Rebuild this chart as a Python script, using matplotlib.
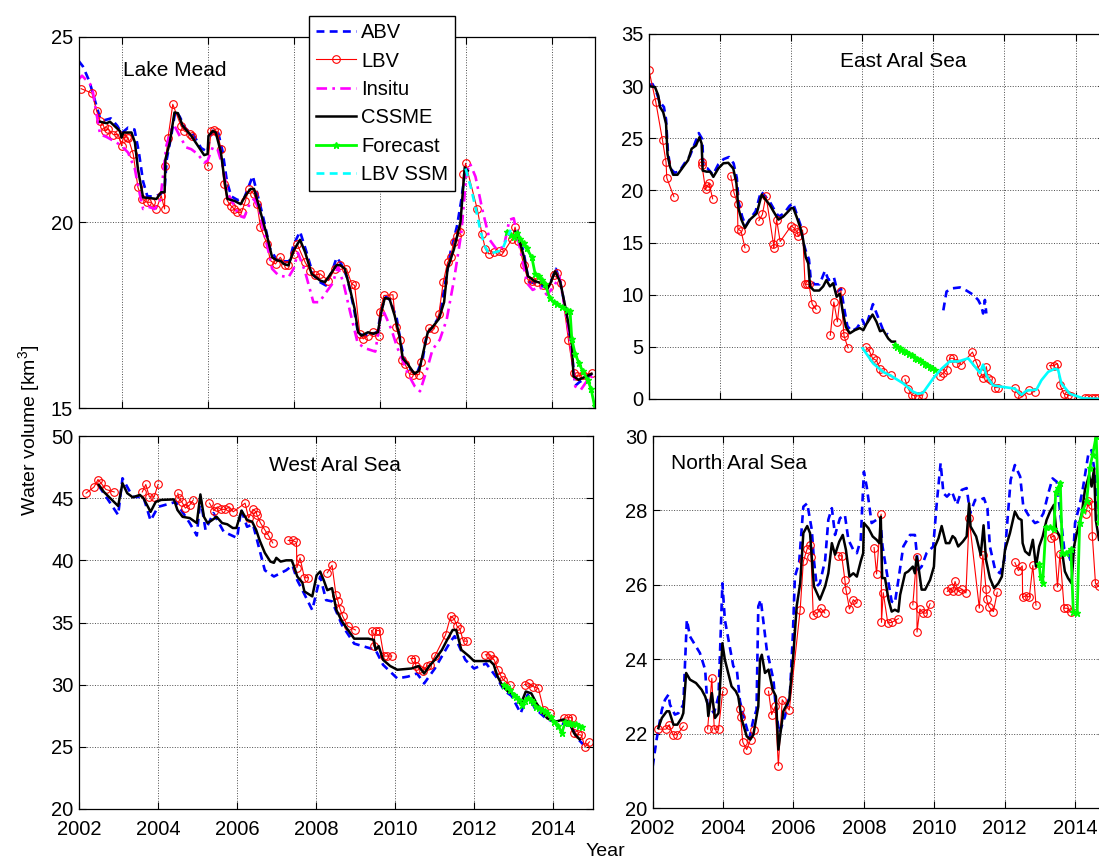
import numpy as np
import matplotlib.pyplot as plt

plt.rcParams['font.family'] = ['Liberation Sans', 'DejaVu Sans']
plt.rcParams['mathtext.fontset'] = 'custom'
plt.rcParams['mathtext.rm'] = 'Liberation Sans'

# ---------------- Lake Mead (year, km3) ----------------
mead_abv = [(2003.0, 24.35), (2003.1, 24.2), (2003.25, 23.8), (2003.4, 23.2), (2003.5, 22.8), (2003.6, 22.75),
            (2003.75, 22.8), (2003.9, 22.6), (2004.0, 22.4), (2004.15, 22.55), (2004.3, 22.5), (2004.4, 21.9),
            (2004.5, 21.1), (2004.6, 20.7), (2004.75, 20.7), (2004.9, 20.75), (2005.0, 20.9), (2005.05, 21.7),
            (2005.15, 22.3), (2005.25, 23.0), (2005.35, 22.85), (2005.5, 22.5), (2005.65, 22.4), (2005.85, 22.0),
            (2006.0, 21.9), (2006.05, 22.3), (2006.15, 22.5), (2006.25, 22.4), (2006.35, 21.9), (2006.45, 21.1),
            (2006.55, 20.7), (2006.7, 20.6), (2006.85, 20.65), (2006.95, 20.95), (2007.05, 21.25), (2007.15, 20.8),
            (2007.3, 20.1), (2007.45, 19.3), (2007.6, 19.0), (2007.75, 18.95), (2007.9, 18.95), (2008.0, 19.4),
            (2008.15, 19.75), (2008.3, 19.2), (2008.45, 18.6), (2008.6, 18.4), (2008.75, 18.3), (2008.9, 18.7),
            (2009.0, 19.05), (2009.1, 18.9), (2009.25, 18.5), (2009.4, 17.7), (2009.5, 17.0), (2009.65, 16.95),
            (2009.85, 17.0), (2009.95, 17.05), (2010.05, 17.7), (2010.15, 18.0), (2010.25, 17.9), (2010.4, 17.4),
            (2010.5, 16.7), (2010.6, 16.2), (2010.75, 16.0), (2010.85, 15.9), (2011.0, 16.3), (2011.1, 17.0),
            (2011.25, 17.2), (2011.4, 17.5), (2011.5, 18.2), (2011.65, 19.2), (2011.8, 19.9), (2011.9, 20.6),
            (2012.0, 21.5),
            (2013.2, 19.8), (2013.35, 19.2), (2013.47, 18.4), (2013.65, 18.35), (2013.85, 18.25), (2014.0, 18.45),
            (2014.1, 18.75), (2014.2, 18.4), (2014.35, 17.5), (2014.47, 16.5), (2014.55, 15.6), (2014.65, 15.7),
            (2014.8, 15.8), (2014.93, 15.9)]
mead_lbv = [(2003.06, 23.6), (2003.31, 23.48), (2003.42, 23.0), (2003.5, 22.73), (2003.58, 22.6), (2003.62, 22.46),
            (2003.69, 22.51), (2003.81, 22.36), (2003.92, 22.37), (2004.0, 22.06), (2004.04, 22.28), (2004.12, 22.3),
            (2004.15, 22.28), (2004.27, 21.84), (2004.38, 20.94), (2004.48, 20.63), (2004.59, 20.54), (2004.69, 20.54),
            (2004.81, 20.36), (2004.92, 20.72), (2005.0, 20.36), (2005.01, 21.52), (2005.08, 22.28), (2005.19, 23.18),
            (2005.38, 22.6), (2005.46, 22.46), (2005.58, 22.39), (2005.64, 22.33), (2006.0, 21.52), (2006.08, 22.46),
            (2006.15, 22.48), (2006.23, 22.44), (2006.31, 21.97), (2006.38, 21.03), (2006.46, 20.58), (2006.54, 20.45),
            (2006.62, 20.36), (2006.69, 20.27), (2006.79, 20.27), (2006.88, 20.58), (2006.96, 20.9), (2007.08, 20.76),
            (2007.15, 20.49), (2007.23, 19.87), (2007.38, 19.42), (2007.46, 18.97), (2007.58, 18.88), (2007.69, 19.06),
            (2007.81, 18.84), (2007.88, 18.85), (2008.0, 19.15), (2008.08, 19.42), (2008.27, 18.92), (2008.38, 18.7),
            (2008.5, 18.58), (2008.62, 18.61), (2008.81, 18.43), (2008.96, 18.75), (2009.08, 18.84), (2009.23, 18.75),
            (2009.35, 18.34), (2009.42, 18.3), (2009.54, 17.0), (2009.62, 16.86), (2009.73, 16.95), (2009.85, 17.04),
            (2009.98, 16.95), (2010.0, 17.58), (2010.1, 18.03), (2010.31, 18.05), (2010.38, 17.18), (2010.48, 16.82),
            (2010.52, 16.28), (2010.59, 16.19), (2010.69, 15.92), (2010.77, 15.9), (2010.92, 15.9), (2010.96, 16.24),
            (2011.08, 16.82), (2011.15, 17.15), (2011.27, 17.13), (2011.38, 17.54), (2011.48, 18.39), (2011.58, 18.92),
            (2011.65, 19.06), (2011.72, 19.46), (2011.81, 19.64), (2011.88, 19.73), (2011.95, 21.3), (2012.0, 21.59),
            (2012.27, 20.36), (2012.38, 19.69), (2012.46, 19.28), (2012.54, 19.15), (2012.65, 19.19), (2012.77, 19.24),
            (2012.88, 19.19), (2013.08, 19.55), (2013.15, 19.87), (2013.23, 19.5), (2013.35, 18.85), (2013.45, 18.45),
            (2013.55, 18.41), (2013.65, 18.4), (2013.8, 18.32), (2013.95, 18.27), (2014.05, 18.59), (2014.12, 18.63),
            (2014.22, 18.36), (2014.39, 16.84), (2014.51, 15.94), (2014.59, 15.85), (2014.72, 15.9), (2014.93, 15.94)]
mead_insitu = [(2003.0, 23.85), (2003.08, 23.95), (2003.31, 23.67), (2003.42, 22.9), (2003.5, 22.37), (2003.65, 22.3),
               (2003.88, 22.15), (2004.0, 22.06), (2004.15, 21.88), (2004.31, 21.43), (2004.38, 20.99), (2004.5, 20.36),
               (2004.62, 20.42), (2004.77, 20.36), (2004.9, 20.6), (2005.04, 22.06), (2005.15, 22.5), (2005.23, 22.6),
               (2005.35, 22.33), (2005.5, 22.02), (2005.62, 21.97), (2005.77, 21.84), (2005.92, 21.61), (2006.0, 21.66),
               (2006.12, 22.02), (2006.23, 21.97), (2006.35, 21.52), (2006.46, 20.81), (2006.58, 20.54), (2006.73, 20.18),
               (2006.85, 20.13), (2006.96, 20.45), (2007.08, 20.63), (2007.19, 20.36), (2007.31, 19.73), (2007.42, 19.19),
               (2007.5, 18.75), (2007.65, 18.57), (2007.88, 18.52), (2008.0, 18.75), (2008.1, 19.18), (2008.26, 18.7),
               (2008.46, 17.85), (2008.6, 17.85), (2008.74, 18.09), (2008.91, 18.36), (2009.03, 18.81), (2009.16, 18.36),
               (2009.32, 17.56), (2009.49, 16.75), (2009.66, 16.61), (2009.9, 16.52), (2010.03, 17.47), (2010.11, 17.56),
               (2010.28, 17.1), (2010.4, 16.66), (2010.53, 16.3), (2010.65, 15.94), (2010.82, 15.58), (2010.94, 15.45),
               (2011.1, 16.03), (2011.23, 16.57), (2011.4, 16.84), (2011.56, 17.38), (2011.73, 18.45), (2011.9, 19.71),
               (2012.02, 21.32), (2012.1, 21.59), (2012.23, 21.23), (2012.39, 20.34), (2012.56, 19.53), (2012.73, 19.26),
               (2012.89, 19.35), (2013.02, 20.07), (2013.12, 20.11), (2013.27, 19.26), (2013.43, 18.36), (2013.56, 18.18),
               (2013.72, 18.27), (2013.89, 18.05), (2014.05, 18.27), (2014.18, 18.54), (2014.3, 17.74), (2014.43, 16.84),
               (2014.55, 15.58), (2014.68, 15.49), (2014.84, 15.76), (2014.95, 15.85)]
mead_cssme = [(2003.5, 22.71), (2003.65, 22.67), (2003.73, 22.71), (2003.96, 22.46), (2004.0, 22.28), (2004.04, 22.42),
              (2004.23, 22.42), (2004.31, 22.15), (2004.38, 21.43), (2004.5, 20.67), (2004.69, 20.65), (2004.81, 20.63),
              (2004.92, 20.81), (2005.0, 20.81), (2005.02, 21.7), (2005.12, 22.15), (2005.23, 22.96), (2005.31, 22.94),
              (2005.42, 22.6), (2005.62, 22.33), (2005.92, 21.81), (2006.0, 21.84), (2006.02, 22.33), (2006.12, 22.46),
              (2006.19, 22.42), (2006.31, 21.88), (2006.38, 21.25), (2006.46, 20.63), (2006.62, 20.58), (2006.77, 20.49),
              (2006.88, 20.72), (2007.0, 20.9), (2007.08, 20.9), (2007.19, 20.45), (2007.38, 19.64), (2007.5, 19.06),
              (2007.62, 18.97), (2007.69, 18.97), (2007.77, 18.88), (2007.88, 18.84), (2008.0, 19.24), (2008.15, 19.53),
              (2008.27, 19.19), (2008.42, 18.61), (2008.62, 18.43), (2008.73, 18.39), (2009.0, 18.85), (2009.08, 18.85),
              (2009.19, 18.75), (2009.31, 18.21), (2009.42, 17.67), (2009.5, 17.04), (2009.58, 16.95), (2009.73, 17.04),
              (2009.85, 17.0), (2009.96, 17.04), (2010.04, 17.58), (2010.12, 17.96), (2010.23, 17.94), (2010.35, 17.49),
              (2010.46, 16.95), (2010.54, 16.33), (2010.65, 16.19), (2010.81, 15.92), (2010.92, 16.01), (2011.0, 16.42),
              (2011.12, 17.04), (2011.23, 17.18), (2011.38, 17.4), (2011.5, 17.85), (2011.58, 18.75), (2011.73, 19.28),
              (2011.88, 20.0), (2011.98, 21.48), (2012.05, 21.39),
              (2013.15, 19.75), (2013.23, 19.6), (2013.35, 19.1), (2013.45, 18.55), (2013.6, 18.42), (2013.8, 18.35),
              (2013.9, 18.2), (2013.98, 18.38), (2014.08, 18.68), (2014.2, 18.4), (2014.34, 17.6), (2014.47, 16.75),
              (2014.51, 15.85), (2014.63, 15.76), (2014.8, 15.85), (2014.93, 15.92)]
mead_forecast = [(2012.96, 19.75), (2013.05, 19.65), (2013.12, 19.6), (2013.2, 19.7), (2013.27, 19.55), (2013.35, 19.45),
                 (2013.42, 19.3), (2013.54, 19.06), (2013.62, 18.6), (2013.7, 18.55), (2013.78, 18.45), (2013.85, 18.34),
                 (2013.96, 17.95), (2014.05, 17.85), (2014.13, 17.8), (2014.25, 17.72), (2014.35, 17.65), (2014.43, 17.6),
                 (2014.47, 16.85), (2014.55, 16.45), (2014.64, 16.2), (2014.72, 16.0), (2014.84, 15.76), (2014.92, 15.5),
                 (2015.0, 15.05)]
mead_ssm = [(2012.0, 21.45), (2012.12, 20.95), (2012.25, 20.3), (2012.35, 19.75), (2012.45, 19.35), (2012.55, 19.15),
            (2012.7, 19.2), (2012.85, 19.25), (2012.95, 19.55), (2013.05, 19.8)]

# ---------------- East Aral Sea ----------------
east_abv = [(2002.0, 30.1), (2002.1, 30.2), (2002.2, 29.5), (2002.3, 28.5), (2002.42, 28.0), (2002.48, 26.8),
            (2002.53, 23.8), (2002.6, 22.1), (2002.72, 21.7), (2002.85, 21.8), (2003.0, 22.6), (2003.15, 23.3),
            (2003.3, 24.6), (2003.4, 25.5), (2003.5, 24.9), (2003.53, 22.2), (2003.65, 22.1), (2003.8, 21.5),
            (2003.95, 22.5), (2004.1, 23.0), (2004.25, 23.2), (2004.38, 22.6), (2004.47, 21.2), (2004.52, 18.9),
            (2004.62, 17.5), (2004.72, 16.6), (2004.85, 17.3), (2005.0, 18.0), (2005.15, 19.9), (2005.28, 19.4),
            (2005.4, 18.9), (2005.55, 18.0), (2005.65, 17.5), (2005.8, 17.8), (2005.95, 18.5), (2006.05, 18.8),
            (2006.15, 17.8), (2006.27, 16.6), (2006.35, 14.9), (2006.42, 14.1), (2006.5, 13.4), (2006.55, 11.5),
            (2006.65, 11.0), (2006.8, 11.0), (2006.95, 12.3), (2007.05, 11.4), (2007.2, 11.7), (2007.3, 10.3),
            (2007.4, 10.6), (2007.5, 8.5), (2007.58, 7.0), (2007.7, 6.5), (2007.85, 6.8), (2008.0, 7.6),
            (2008.1, 6.9), (2008.3, 9.1), (2008.45, 7.8), (2008.6, 6.5), (2008.72, 6.2),
            (2010.28, 8.5), (2010.37, 10.3), (2010.51, 10.6), (2010.75, 10.7), (2010.93, 10.4), (2011.12, 10.0),
            (2011.26, 9.5), (2011.35, 8.9), (2011.4, 8.2), (2011.45, 9.5), (2011.49, 8.2)]
east_lbv = [(2002.0, 31.5), (2002.19, 28.5), (2002.38, 24.8), (2002.48, 22.7), (2002.5, 21.2), (2002.7, 19.4),
            (2003.48, 22.7), (2003.49, 22.4), (2003.59, 20.1), (2003.64, 20.4), (2003.69, 20.7), (2003.79, 19.2),
            (2004.3, 21.4), (2004.39, 19.8), (2004.49, 18.7), (2004.5, 16.3), (2004.59, 16.1), (2004.7, 14.5),
            (2005.09, 17.1), (2005.19, 17.7), (2005.29, 19.5),
            (2005.5, 14.9), (2005.51, 14.5), (2005.59, 17.2), (2005.69, 15.1),
            (2006.0, 16.6), (2006.08, 16.4), (2006.17, 16.0), (2006.2, 15.6), (2006.32, 16.2), (2006.39, 11.0),
            (2006.45, 11.0), (2006.5, 11.0), (2006.59, 9.1), (2006.7, 8.6),
            (2007.1, 6.1), (2007.2, 9.3), (2007.3, 7.4), (2007.4, 10.4), (2007.48, 6.3), (2007.49, 6.0), (2007.6, 4.9),
            (2008.1, 5.0), (2008.2, 4.6), (2008.29, 3.9), (2008.4, 3.7), (2008.5, 2.9), (2008.59, 2.6), (2008.8, 2.3),
            (2009.2, 1.9), (2009.29, 1.0), (2009.39, 0.4), (2009.48, 0.3), (2009.57, 0.3), (2009.71, 0.4),
            (2010.18, 2.2), (2010.28, 2.5), (2010.37, 2.8), (2010.46, 3.9), (2010.56, 3.9), (2010.65, 3.5), (2010.79, 3.3),
            (2011.1, 4.5), (2011.21, 3.5), (2011.33, 2.5), (2011.4, 2.0), (2011.49, 3.1), (2011.54, 2.0), (2011.63, 1.8),
            (2011.73, 1.1), (2011.82, 1.1),
            (2012.29, 1.1), (2012.38, 0.5), (2012.5, 0.2), (2012.69, 0.9), (2012.85, 0.7),
            (2013.27, 3.2), (2013.39, 3.2), (2013.49, 3.4), (2013.57, 1.3), (2013.67, 0.5), (2013.78, 0.4), (2013.88, 0.3),
            (2014.26, 0.06), (2014.36, 0.06), (2014.45, 0.06), (2014.55, 0.06), (2014.64, 0.06), (2014.74, 0.06)]
east_cssme = [(2002.0, 30.0), (2002.17, 29.9), (2002.26, 29.1), (2002.31, 28.0), (2002.4, 27.5), (2002.48, 26.4),
              (2002.52, 23.5), (2002.59, 22.3), (2002.68, 21.5), (2002.8, 21.5), (2002.97, 22.3), (2003.1, 22.9),
              (2003.2, 24.0), (2003.32, 24.3), (2003.42, 25.1), (2003.48, 24.5), (2003.51, 21.9), (2003.62, 21.8),
              (2003.72, 21.8), (2003.81, 21.3), (2003.95, 22.1), (2004.09, 22.6), (2004.23, 22.65), (2004.37, 22.1),
              (2004.46, 20.7), (2004.51, 18.4), (2004.6, 17.2), (2004.7, 16.4), (2004.84, 17.2), (2005.03, 17.8),
              (2005.17, 19.6), (2005.26, 19.2), (2005.4, 18.6), (2005.5, 18.0), (2005.64, 17.2), (2005.78, 17.5),
              (2005.92, 18.0), (2006.0, 18.3), (2006.06, 18.3), (2006.15, 17.5), (2006.26, 16.4), (2006.34, 15.2),
              (2006.41, 13.6), (2006.48, 13.0), (2006.53, 10.8), (2006.64, 10.4), (2006.79, 10.4), (2006.9, 10.8),
              (2006.99, 11.4), (2007.09, 10.8), (2007.18, 11.1), (2007.28, 9.8), (2007.37, 10.1), (2007.46, 8.2),
              (2007.54, 6.9), (2007.65, 6.3), (2007.79, 6.6), (2007.93, 6.8), (2008.03, 6.6), (2008.12, 7.2),
              (2008.29, 8.1), (2008.4, 7.4), (2008.5, 6.5), (2008.59, 6.6), (2008.73, 5.8), (2008.82, 5.5),
              (2008.92, 5.5)]
east_forecast = [(2008.92, 5.2), (2008.98, 5.0), (2009.05, 4.85), (2009.1, 4.7), (2009.17, 4.6), (2009.24, 4.5),
                 (2009.32, 4.35), (2009.39, 4.2), (2009.48, 3.9), (2009.55, 3.8), (2009.62, 3.7), (2009.69, 3.55),
                 (2009.76, 3.4), (2009.83, 3.25), (2009.9, 3.1), (2009.97, 2.95), (2010.04, 2.8)]
east_ssm = [(2008.01, 4.86), (2008.31, 3.4), (2008.59, 2.6), (2008.82, 2.2), (2009.15, 1.5), (2009.43, 0.7),
            (2009.57, 0.5), (2009.71, 0.6), (2010.0, 2.0), (2010.23, 2.9), (2010.46, 3.6), (2010.7, 3.6),
            (2010.98, 3.9), (2011.17, 3.1), (2011.31, 2.5), (2011.4, 3.3), (2011.5, 2.2), (2011.68, 1.3),
            (2011.87, 1.2), (2012.29, 1.0), (2012.48, 0.4), (2012.62, 0.8), (2012.9, 0.9), (2013.04, 1.8),
            (2013.23, 2.6), (2013.42, 2.9), (2013.51, 2.8), (2013.6, 1.5), (2013.84, 0.5), (2014.22, 0.06),
            (2014.83, 0.0)]

# ---------------- West Aral Sea ----------------
west_abv = [(2002.5, 46.0), (2002.99, 43.65), (2003.1, 46.6), (2003.36, 45.1), (2003.63, 45.1), (2003.81, 43.2),
            (2004.0, 44.3), (2004.45, 44.7), (2004.8, 43.0), (2004.98, 42.0), (2005.07, 45.0), (2005.2, 42.45),
            (2005.4, 43.8), (2005.66, 42.3), (2006.0, 41.8), (2006.1, 44.1), (2006.25, 42.7), (2006.4, 42.9),
            (2006.57, 40.8), (2006.7, 39.2), (2006.93, 38.7), (2007.24, 39.2), (2007.4, 39.6), (2007.52, 38.4),
            (2007.65, 37.6), (2007.9, 36.0), (2008.1, 38.7), (2008.25, 36.8), (2008.4, 36.7), (2008.65, 34.8),
            (2008.96, 33.3), (2009.5, 32.8), (2009.69, 31.6), (2010.05, 30.5), (2010.32, 30.65), (2010.55, 30.9),
            (2010.73, 30.1), (2011.0, 31.3), (2011.4, 33.5), (2011.5, 33.9), (2011.77, 32.0), (2011.99, 31.3),
            (2012.3, 31.7), (2012.58, 30.5), (2012.76, 29.5), (2012.94, 29.1), (2013.17, 27.7), (2013.35, 29.2),
            (2013.53, 28.1), (2013.84, 27.2), (2014.2, 26.9), (2014.48, 26.6), (2014.57, 25.8), (2014.75, 25.2)]
west_lbv = [(2002.18, 45.4), (2002.38, 45.9), (2002.48, 46.5), (2002.56, 46.2), (2002.68, 45.7), (2002.89, 45.5),
            (2003.6, 45.5), (2003.69, 46.1), (2003.78, 45.1), (2003.9, 45.1), (2004.0, 46.1),
            (2004.5, 45.4), (2004.52, 45.0), (2004.6, 44.7), (2004.69, 44.2), (2004.8, 44.45), (2004.89, 44.86),
            (2005.3, 44.6), (2005.41, 44.0), (2005.5, 44.3), (2005.59, 44.1), (2005.7, 44.1), (2005.8, 44.3),
            (2005.9, 43.9), (2006.2, 44.6), (2006.29, 43.4), (2006.4, 44.1), (2006.48, 43.9), (2006.5, 43.65),
            (2006.59, 43.0), (2006.7, 42.45), (2006.79, 42.0), (2006.9, 41.4),
            (2007.29, 41.6), (2007.4, 41.6), (2007.5, 41.45), (2007.51, 39.4), (2007.59, 40.2), (2007.7, 38.6),
            (2007.8, 38.6), (2008.28, 39.0), (2008.4, 39.6), (2008.5, 37.2), (2008.55, 36.7), (2008.6, 36.1),
            (2008.67, 35.5), (2008.8, 34.7), (2008.99, 34.4),
            (2009.4, 34.35), (2009.45, 33.1), (2009.5, 34.35), (2009.6, 34.35), (2009.71, 32.3), (2009.8, 32.3),
            (2009.91, 32.3), (2010.39, 32.1), (2010.5, 32.1), (2010.52, 31.5), (2010.59, 31.3), (2010.7, 31.1),
            (2010.8, 31.5), (2010.89, 31.6), (2011.0, 32.3), (2011.27, 34.0), (2011.4, 35.5), (2011.49, 35.3),
            (2011.56, 34.7), (2011.63, 34.5), (2011.72, 33.5), (2011.81, 33.5),
            (2012.28, 32.4), (2012.4, 32.4), (2012.47, 32.05), (2012.5, 32.0), (2012.6, 31.2), (2012.67, 30.7),
            (2012.73, 30.4), (2012.89, 30.0), (2013.27, 30.0), (2013.39, 30.1), (2013.48, 29.85), (2013.62, 29.7),
            (2013.75, 28.0), (2013.9, 27.7), (2014.27, 27.3), (2014.37, 27.35), (2014.46, 27.35), (2014.52, 26.1),
            (2014.61, 26.0), (2014.7, 25.95), (2014.8, 25.0), (2014.91, 25.4)]
west_cssme = [(2002.5, 46.06), (2002.63, 45.5), (2002.99, 44.37), (2003.1, 46.2), (2003.22, 45.4), (2003.36, 45.07),
              (2003.54, 45.26), (2003.63, 45.0), (2003.81, 43.9), (2003.94, 44.7), (2004.08, 44.86), (2004.4, 44.9),
              (2004.49, 44.05), (2004.62, 43.5), (2004.8, 43.4), (2004.98, 43.0), (2005.07, 45.3), (2005.16, 43.5),
              (2005.25, 43.0), (2005.35, 43.2), (2005.48, 43.5), (2005.62, 43.0), (2005.75, 42.9), (2005.89, 42.6),
              (2005.98, 42.6), (2006.11, 44.0), (2006.25, 43.25), (2006.38, 43.1), (2006.48, 42.45), (2006.57, 41.6),
              (2006.7, 40.6), (2006.84, 39.9), (2006.93, 39.8), (2006.99, 40.2), (2007.1, 39.9), (2007.24, 40.0),
              (2007.38, 40.0), (2007.44, 39.5), (2007.52, 38.7), (2007.65, 38.2), (2007.7, 37.5), (2007.9, 37.1),
              (2008.01, 38.8), (2008.1, 39.1), (2008.19, 38.4), (2008.28, 37.6), (2008.4, 37.76), (2008.51, 36.0),
              (2008.65, 35.1), (2008.78, 34.5), (2008.96, 33.7), (2009.14, 33.7), (2009.32, 33.7), (2009.46, 33.6),
              (2009.5, 32.8), (2009.58, 33.1), (2009.69, 32.0), (2009.87, 31.5), (2010.05, 31.2), (2010.41, 31.3),
              (2010.59, 31.5), (2010.73, 30.9), (2010.86, 31.5), (2011.0, 32.0), (2011.18, 32.8), (2011.31, 33.6),
              (2011.45, 34.4), (2011.54, 34.4), (2011.67, 32.8), (2011.86, 32.3), (2011.99, 31.9), (2012.4, 31.9),
              (2012.49, 31.6), (2012.58, 30.7), (2012.71, 29.9), (2012.85, 29.45), (2013.03, 29.2), (2013.17, 28.4),
              (2013.3, 29.45), (2013.44, 29.3), (2013.57, 28.5), (2013.66, 28.1), (2013.84, 27.3), (2014.03, 27.0),
              (2014.25, 27.2), (2014.39, 27.0), (2014.52, 26.1), (2014.66, 25.6)]
west_forecast = [(2012.76, 30.0), (2012.83, 29.8), (2012.9, 29.6), (2012.99, 29.2), (2013.05, 29.0), (2013.12, 28.8),
                 (2013.21, 28.4), (2013.28, 28.7), (2013.35, 28.9), (2013.42, 28.8), (2013.48, 28.6), (2013.57, 28.2),
                 (2013.64, 28.1), (2013.71, 28.0), (2013.78, 27.85), (2013.84, 27.7), (2013.93, 27.4), (2014.02, 27.0),
                 (2014.12, 26.7), (2014.21, 26.1), (2014.3, 27.0), (2014.37, 26.95), (2014.43, 26.9), (2014.5, 26.85),
                 (2014.57, 26.8), (2014.65, 26.7), (2014.73, 26.6)]

# ---------------- North Aral Sea ----------------
north_abv = [(2002.0, 21.12), (2002.11, 21.84), (2002.26, 22.64), (2002.35, 22.91), (2002.45, 23.05), (2002.49, 22.78),
             (2002.63, 22.51), (2002.73, 22.55), (2002.87, 22.78), (2002.97, 25.06), (2003.06, 24.61), (2003.34, 24.17),
             (2003.49, 23.72), (2003.55, 22.82), (2003.74, 22.55), (2003.87, 23.0), (2003.98, 26.04), (2004.05, 25.06),
             (2004.29, 23.81), (2004.39, 23.72), (2004.48, 22.87), (2004.62, 22.33), (2004.75, 21.88), (2004.86, 22.38),
             (2004.95, 22.64), (2005.0, 25.42), (2005.07, 25.6), (2005.24, 24.26), (2005.43, 23.45), (2005.52, 22.47),
             (2005.6, 22.02), (2005.76, 22.47), (2005.9, 23.09), (2005.98, 24.61), (2006.04, 26.22), (2006.16, 26.6),
             (2006.28, 28.1), (2006.39, 28.19), (2006.52, 27.48), (2006.58, 26.67), (2006.66, 25.96), (2006.75, 26.04),
             (2006.9, 26.67), (2006.99, 27.75), (2007.09, 28.06), (2007.18, 27.34), (2007.32, 27.79), (2007.46, 27.88),
             (2007.56, 27.21), (2007.7, 26.94), (2007.8, 26.85), (2007.91, 27.21), (2008.0, 29.04), (2008.08, 28.64),
             (2008.22, 27.66), (2008.36, 27.75), (2008.46, 27.83), (2008.53, 27.03), (2008.67, 26.22), (2008.79, 25.55),
             (2008.88, 25.51), (2008.98, 26.13), (2009.12, 27.03), (2009.31, 27.34), (2009.45, 27.34), (2009.55, 26.4),
             (2009.64, 26.49), (2009.78, 26.85), (2009.97, 27.03), (2010.07, 28.19), (2010.18, 29.27), (2010.26, 28.46),
             (2010.36, 28.37), (2010.5, 28.51), (2010.64, 28.15), (2010.78, 28.55), (2010.92, 28.6), (2011.02, 27.92),
             (2011.16, 28.28), (2011.3, 28.28), (2011.41, 28.33), (2011.51, 28.06), (2011.58, 27.03), (2011.73, 26.4),
             (2011.87, 26.31), (2011.99, 26.67), (2012.17, 28.82), (2012.29, 29.22), (2012.44, 28.91), (2012.53, 28.1),
             (2012.67, 27.88), (2012.86, 27.66), (2012.96, 27.7), (2013.1, 27.92), (2013.24, 28.46), (2013.36, 28.86),
             (2013.48, 28.77), (2013.59, 27.83), (2013.69, 26.98), (2013.8, 26.85), (2013.93, 26.49), (2014.0, 27.66),
             (2014.14, 28.19), (2014.23, 28.64), (2014.38, 29.53), (2014.47, 29.62), (2014.56, 29.0), (2014.68, 27.74)]
north_lbv = [(2002.16, 22.12), (2002.38, 22.12), (2002.47, 22.24), (2002.57, 21.97), (2002.7, 21.97), (2002.87, 22.2),
             (2003.56, 22.12), (2003.68, 23.49), (2003.75, 22.12), (2003.87, 22.12), (2003.99, 23.14),
             (2004.48, 22.66), (2004.5, 22.44), (2004.56, 21.77), (2004.67, 21.57), (2004.78, 21.84), (2004.89, 22.11),
             (2005.29, 23.14), (2005.38, 22.51), (2005.48, 22.73), (2005.57, 21.14), (2005.68, 22.91), (2005.88, 22.63),
             (2006.19, 25.33), (2006.28, 26.63), (2006.39, 26.97), (2006.47, 27.07), (2006.5, 26.76), (2006.56, 25.19),
             (2006.68, 25.24), (2006.77, 25.37), (2006.89, 25.24),
             (2007.27, 26.78), (2007.37, 26.78), (2007.46, 26.13), (2007.49, 25.87), (2007.59, 25.35), (2007.7, 25.6),
             (2007.8, 25.51), (2008.29, 27.0), (2008.36, 26.29), (2008.49, 27.9), (2008.5, 24.99), (2008.55, 25.79),
             (2008.68, 24.97), (2008.79, 24.99), (2008.98, 25.09),
             (2009.39, 25.46), (2009.5, 26.74), (2009.51, 24.73), (2009.59, 25.35), (2009.69, 25.24), (2009.78, 25.24),
             (2009.88, 25.49), (2010.37, 25.82), (2010.47, 25.91), (2010.52, 25.82), (2010.59, 26.09), (2010.68, 25.82),
             (2010.8, 25.88), (2010.9, 25.78), (2010.99, 27.79), (2011.28, 25.37), (2011.38, 26.81), (2011.47, 25.88),
             (2011.49, 25.61), (2011.56, 25.4), (2011.68, 25.28), (2011.79, 25.8),
             (2012.29, 26.6), (2012.39, 26.38), (2012.5, 26.51), (2012.51, 25.66), (2012.6, 25.71), (2012.7, 25.67),
             (2012.8, 26.52), (2012.89, 25.45), (2013.31, 27.27), (2013.4, 27.32), (2013.5, 25.94), (2013.57, 26.83),
             (2013.69, 25.37), (2013.78, 25.37), (2013.88, 25.26), (2014.3, 27.9), (2014.38, 28.24), (2014.47, 28.15),
             (2014.49, 27.32), (2014.58, 26.04), (2014.67, 25.96)]
north_cssme = [(2002.16, 22.15), (2002.26, 22.42), (2002.4, 22.6), (2002.47, 22.6), (2002.59, 22.24), (2002.7, 22.24),
               (2002.82, 22.42), (2002.87, 22.55), (2002.95, 23.63), (2003.06, 23.45), (2003.23, 23.36), (2003.39, 23.18),
               (2003.49, 23.0), (2003.55, 22.82), (2003.58, 22.47), (2003.68, 23.09), (2003.77, 22.42), (2003.87, 22.55),
               (2003.98, 24.43), (2004.05, 23.99), (2004.24, 23.27), (2004.36, 23.14), (2004.43, 23.0), (2004.53, 22.38),
               (2004.67, 21.93), (2004.77, 21.84), (2004.86, 21.97), (2005.0, 22.73), (2005.05, 23.99), (2005.1, 24.12),
               (2005.19, 23.63), (2005.29, 23.72), (2005.41, 23.18), (2005.5, 23.0), (2005.57, 21.57), (2005.71, 22.6),
               (2005.88, 22.91), (2006.0, 24.17), (2006.09, 25.42), (2006.19, 26.04), (2006.28, 27.39), (2006.39, 27.58),
               (2006.47, 27.39), (2006.58, 25.96), (2006.75, 25.6), (2006.9, 25.96), (2006.99, 26.31), (2007.09, 27.12),
               (2007.18, 26.81), (2007.3, 27.16), (2007.4, 27.34), (2007.49, 26.94), (2007.59, 26.22), (2007.7, 26.31),
               (2007.8, 26.22), (2007.91, 26.63), (2007.98, 26.85), (2008.0, 27.66), (2008.13, 27.52), (2008.25, 27.3),
               (2008.36, 27.21), (2008.44, 27.12), (2008.48, 27.83), (2008.52, 26.18), (2008.6, 26.18), (2008.7, 25.6),
               (2008.79, 25.28), (2008.88, 25.33), (2008.98, 25.28), (2009.03, 25.73), (2009.17, 26.31), (2009.26, 26.36),
               (2009.39, 26.49), (2009.45, 26.31), (2009.5, 26.76), (2009.55, 26.49), (2009.64, 25.87), (2009.74, 25.87),
               (2009.88, 26.13), (2009.99, 26.49), (2010.02, 27.03), (2010.12, 27.25), (2010.21, 27.58), (2010.33, 27.12),
               (2010.43, 27.12), (2010.52, 27.31), (2010.59, 27.25), (2010.68, 27.03), (2010.81, 27.16), (2010.92, 27.3),
               (2010.99, 28.19), (2011.03, 27.57), (2011.19, 27.3), (2011.32, 26.8), (2011.4, 27.6), (2011.47, 26.67),
               (2011.58, 26.18), (2011.7, 25.91), (2011.82, 26.04), (2011.92, 26.22), (2012.01, 26.94), (2012.15, 27.39),
               (2012.29, 27.97), (2012.39, 27.79), (2012.48, 27.74), (2012.51, 27.12), (2012.58, 26.9), (2012.7, 26.8),
               (2012.8, 27.21), (2012.89, 26.49), (2012.98, 27.03), (2013.08, 27.3), (2013.19, 27.74), (2013.29, 27.97),
               (2013.4, 28.15), (2013.46, 27.48), (2013.57, 27.3), (2013.71, 26.36), (2013.8, 26.18), (2013.9, 26.04),
               (2013.97, 27.03), (2014.05, 27.39), (2014.19, 27.92), (2014.28, 28.55), (2014.4, 28.95), (2014.47, 28.64),
               (2014.54, 29.13), (2014.59, 27.74), (2014.68, 27.21)]
north_forecast = [(2012.98, 26.55), (2013.02, 26.2), (2013.08, 26.05), (2013.17, 27.55), (2013.3, 27.55), (2013.4, 27.5),
                  (2013.45, 28.5), (2013.52, 28.6), (2013.58, 28.75), (2013.64, 26.85), (2013.75, 26.85), (2013.88, 26.95),
                  (2013.95, 25.28), (2014.06, 25.25), (2014.13, 27.65), (2014.22, 28.0), (2014.33, 28.25), (2014.42, 29.15),
                  (2014.5, 29.5), (2014.6, 30.0), (2014.68, 27.7)]


def split(pairs, gap):
    # break the line wherever the sampling jumps by more than `gap` years
    a = np.array(pairs, float)
    t, v = a[:, 0], a[:, 1]
    cut = np.where(np.diff(t) > gap + 1e-6)[0] + 1
    return np.insert(t, cut, np.nan), np.insert(v, cut, np.nan)


DASH = (0, (3, 2))
DASHDOT = (0, (4, 2, 1, 2))
BLUE, RED, MAGENTA, GREEN, CYAN = (0, 0, 1), (1, 0, 0), (1, 0, 1), (0, 1, 0), (0, 1, 1)


def draw(ax, abv, lbv, insitu, cssme, fc, ssm, ssm_ls):
    h = []
    if abv is not None:
        h += ax.plot(*split(abv, 0.6), color=BLUE, ls=DASH, lw=1.9, label='ABV')
    h += ax.plot(*split(lbv, 0.32), color=RED, lw=0.8, marker='o', ms=5.5, mfc='none', mew=0.8, label='LBV')
    if insitu is not None:
        h += ax.plot(*split(insitu, 0.6), color=MAGENTA, ls=DASHDOT, lw=1.9, label='Insitu')
    h += ax.plot(*split(cssme, 0.6), color='k', lw=1.8, label='CSSME')
    h += ax.plot(*split(fc, 0.6), color=GREEN, lw=2.0, marker='*', ms=5, mew=1.0, label='Forecast')
    if ssm is not None:
        h += ax.plot(*split(ssm, 0.7), color=CYAN, ls=ssm_ls, lw=1.9, label='LBV SSM')
    return h


def style(ax, xlim, ylim, yticks, show_x):
    # ticks first: set_xticks would otherwise widen the view to reach 2002
    ax.set_xticks(range(2002, 2015, 2))
    ax.set_yticks(yticks)
    ax.set_xlim(xlim)
    ax.set_ylim(ylim)
    ax.grid(True, ls=':', color='0.3', lw=0.7)
    ax.tick_params(direction='in', top=True, right=True, length=5, width=0.8, labelsize=14.5, pad=4)
    ax.tick_params(axis='x', pad=8)
    for s in ax.spines.values():
        s.set_linewidth(0.9)
    if not show_x:
        ax.set_xticklabels([])


fig = plt.figure(figsize=(10.99, 8.61), dpi=100)
W, H = 1099.0, 861.0


def add_axes(x0, x1, y0, y1):
    return fig.add_axes([x0 / W, 1 - y1 / H, (x1 - x0) / W, (y1 - y0) / H])


ax_mead = add_axes(78.6, 594.6, 36.7, 408)
ax_east = add_axes(649, 1105, 34, 399)
ax_west = add_axes(79, 593, 436, 809)
ax_north = add_axes(652.7, 1105, 436, 808)

handles = draw(ax_mead, mead_abv, mead_lbv, mead_insitu, mead_cssme, mead_forecast, mead_ssm, DASH)
draw(ax_east, east_abv, east_lbv, None, east_cssme, east_forecast, east_ssm, '-')
draw(ax_west, west_abv, west_lbv, None, west_cssme, west_forecast, None, '-')
draw(ax_north, north_abv, north_lbv, None, north_cssme, north_forecast, None, '-')

style(ax_mead, (2003, 2015), (15, 25), [15, 20, 25], False)
style(ax_east, (2002, 2002 + (1105 - 649) / (1099 - 649) * 12.66), (0, 35), range(0, 36, 5), False)
style(ax_west, (2002, 2015), (20, 50), range(20, 51, 5), True)
style(ax_north, (2002, 2002 + (1105 - 652.7) / (1099 - 652.7) * 12.68), (20, 30), range(20, 31, 2), True)

ax_mead.text(0.187, 0.91, 'Lake Mead', transform=ax_mead.transAxes, ha='center', va='center', fontsize=15)
ax_east.text(0.558, 0.926, 'East Aral Sea', transform=ax_east.transAxes, ha='center', va='center', fontsize=15)
ax_west.text(0.498, 0.92, 'West Aral Sea', transform=ax_west.transAxes, ha='center', va='center', fontsize=15)
ax_north.text(0.191, 0.927, 'North Aral Sea', transform=ax_north.transAxes, ha='center', va='center', fontsize=15)

fig.text(30 / W, 1 - 430 / H, 'Water volume [km$^3$]', rotation=90, ha='center', va='center', fontsize=14)
fig.text(605 / W, 1 - 851 / H, 'Year', ha='center', va='center', fontsize=14)

leg = fig.legend(handles, [h.get_label() for h in handles], loc='upper left',
                 bbox_to_anchor=(309 / W, 1 - 16 / H), fontsize=14.5, frameon=True, fancybox=False,
                 framealpha=1, edgecolor='k', handlelength=2.0, handletextpad=0.25,
                 labelspacing=0.47, borderpad=0.35, borderaxespad=0, numpoints=1)
leg.get_frame().set_linewidth(1.0)

fig.savefig('out.png', dpi=100)
